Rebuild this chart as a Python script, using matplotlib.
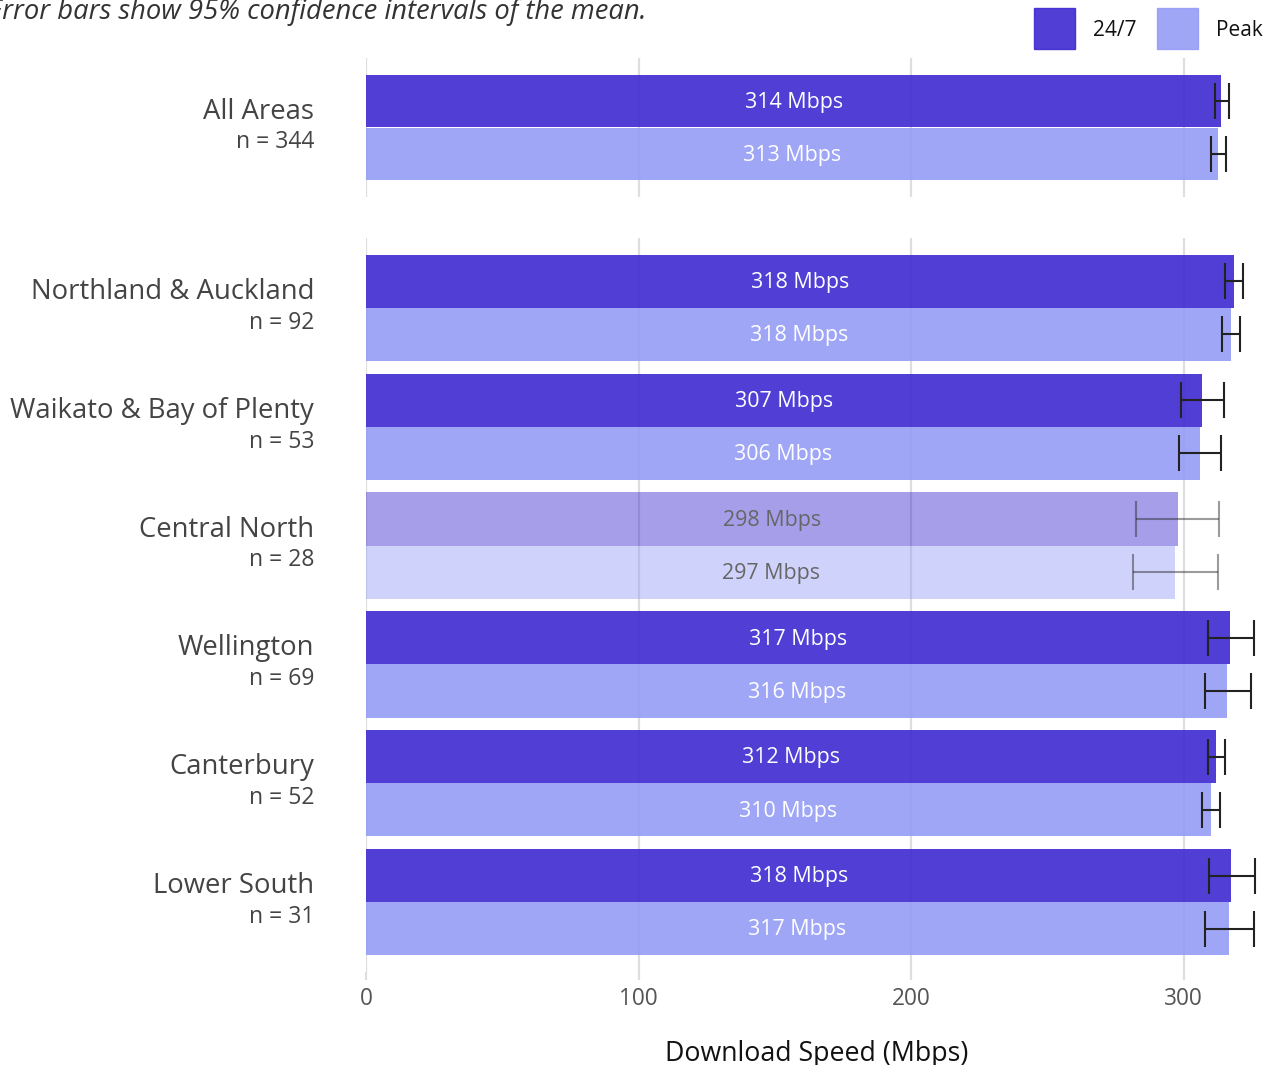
import matplotlib
matplotlib.use("Agg")
import matplotlib.pyplot as plt
from matplotlib.patches import Rectangle

plt.rcParams['font.family'] = ['Open Sans', 'DejaVu Sans']

regions = ["All Areas", "Northland & Auckland", "Waikato & Bay of Plenty",
           "Central North", "Wellington", "Canterbury", "Lower South"]
n_counts = [344, 92, 53, 28, 69, 52, 31]
series = ["24/7", "Peak"]
mean_247 = [313.9, 318.4, 306.9, 297.8, 317.2, 312.1, 317.6]
lo_247 = [311.7, 315.4, 299.2, 282.7, 308.8, 309.0, 309.5]
hi_247 = [316.8, 322.0, 315.0, 313.2, 326.0, 315.4, 326.4]
mean_peak = [312.8, 317.6, 306.2, 297.0, 316.1, 309.9, 316.6]
lo_peak = [310.2, 314.3, 298.5, 281.6, 307.7, 306.6, 307.7]
hi_peak = [315.7, 320.9, 313.9, 312.8, 324.9, 313.5, 326.0]
faded = [False, False, False, True, False, False, False]
xticks = [0, 100, 200, 300]

c247 = "#3d29d1"
cpeak = "#959cf6"
W, H = 1278, 1065
fig = plt.figure(figsize=(W / 100, H / 100), dpi=100)

left = 366 / W
width = 902 / W
ax1 = fig.add_axes([left, 1 - 197 / H, width, 139 / H])
ax2 = fig.add_axes([left, 1 - 972 / H, width, 734 / H])

bh = 0.447
off = bh / 2
for ax, idxs, ylim in [(ax1, [0], (0.5865, -0.5865)), (ax2, list(range(1, 7)), (5.587, -0.587))]:
    ax.set_xlim(0, 331)
    ax.set_ylim(*ylim)
    for s in ax.spines.values():
        s.set_visible(False)
    for xt in xticks:
        ax.axvline(xt, color="#dedede", lw=1.6, zorder=0)
    for k, i in enumerate(idxs):
        yc = k
        a = 0.45 if faded[i] else 0.9
        ea = 0.45 if faded[i] else 1.0
        tcol = "#666666" if faded[i] else "white"
        for m, lo, hi, col, dy in [(mean_247[i], lo_247[i], hi_247[i], c247, -off),
                                   (mean_peak[i], lo_peak[i], hi_peak[i], cpeak, off)]:
            ax.barh(yc + dy, m, height=bh, color=col, alpha=a, zorder=2)
            ax.errorbar([(lo + hi) / 2], [yc + dy], xerr=[[(hi - lo) / 2], [(hi - lo) / 2]],
                        fmt="none", ecolor="#222222", elinewidth=1.5, capsize=13,
                        capthick=1.5, alpha=ea, zorder=3)
            ax.text(m / 2, yc + dy + 0.01, f"{round(m)} Mbps", color=tcol, fontsize=15.4,
                    ha="center", va="center", zorder=4)
        ax.text(-19, yc - 0.135, regions[i], ha="right", va="center", fontsize=19.8,
                color="#444444", clip_on=False)
        ax.text(-19, yc + 0.125, f"n = {n_counts[i]}", ha="right", va="center", fontsize=16.5,
                color="#444444", clip_on=False)
    ax.set_yticks([])

ax1.set_xticks([])
ax2.set_xticks(xticks)
ax2.set_xticklabels([str(x) for x in xticks], fontsize=16.3, color="#555555")
ax2.tick_params(axis="x", length=6, width=1.6, color="#dedede", pad=5)
fig.text((366 + 451) / W, 1 - 1054 / H, "Download Speed (Mbps)", fontsize=19.3,
         color="#111111", ha="center", va="center")

# legend
fig.patches.append(Rectangle((1034 / W, 1 - 49 / H), 41 / W, 41 / H, transform=fig.transFigure,
                             color=c247, alpha=0.9))
fig.patches.append(Rectangle((1157 / W, 1 - 49 / H), 41 / W, 41 / H, transform=fig.transFigure,
                             color=cpeak, alpha=0.9))
fig.text(1093 / W, 1 - 30 / H, series[0], fontsize=15, va="center", ha="left", color="#111111")
fig.text(1216 / W, 1 - 30 / H, series[1], fontsize=15, va="center", ha="left", color="#111111")

fig.text(-12 / W, 1 - 12 / H, "Error bars show 95% confidence intervals of the mean.",
         fontsize=19.7, style="italic", va="center", ha="left", color="#333333")
fig.text(-4 / W, 1 - 1075 / H, "MBNZ Report, 19 April 2021", fontsize=14,
         va="center", ha="left", color="#777777")

fig.savefig("out.png", dpi=100)
